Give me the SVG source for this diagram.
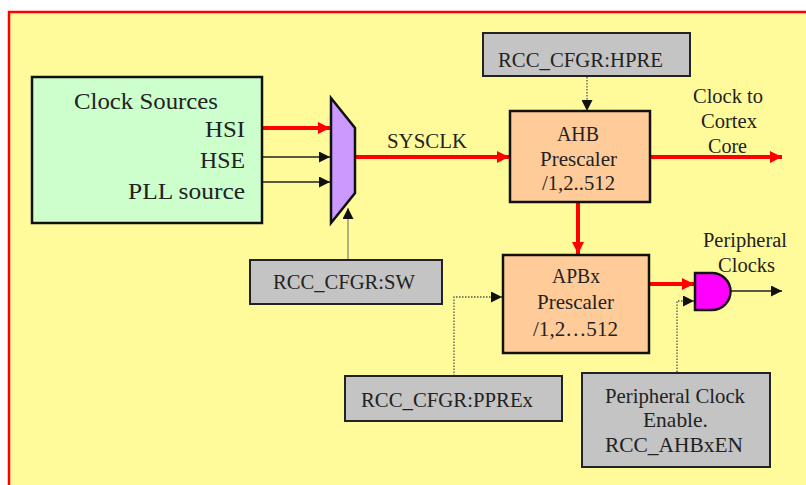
<svg xmlns="http://www.w3.org/2000/svg" width="806" height="485" viewBox="0 0 806 485">
<style>
text{font-family:"Liberation Serif","DejaVu Serif","Noto Serif",serif;fill:#222;}
.t24{font-size:24px;}
.t21{font-size:21px;}
.t20{font-size:20px;}
.mid{text-anchor:middle;}
.end{text-anchor:end;}
.box{stroke:#111;stroke-width:2.5;}
.gray{fill:#C4C4C4;stroke:#222;stroke-width:2;}
.red{stroke:#FF0000;stroke-width:4;fill:none;}
.blk{stroke:#222;stroke-width:1.3;fill:none;}
.dot{stroke:#555;stroke-width:1.3;stroke-dasharray:1.5 1.5;fill:none;}
</style>
<defs>
<marker id="ar" viewBox="0 0 10 10" refX="10" refY="5" markerWidth="14" markerHeight="12" markerUnits="userSpaceOnUse" orient="auto"><path d="M0,0 L10,5 L0,10 Z" fill="#FF0000"/></marker>
<marker id="ab" viewBox="0 0 10 10" refX="10" refY="5" markerWidth="11" markerHeight="11" markerUnits="userSpaceOnUse" orient="auto"><path d="M0,0 L10,5 L0,10 Z" fill="#111"/></marker>
</defs>
<rect x="0" y="0" width="806" height="485" fill="#FFFFFF"/>
<rect x="9" y="12" width="820" height="500" fill="#FFFB9A" stroke="#FF0000" stroke-width="2.5"/>

<g id="connectors">
<line class="red" x1="262" y1="128" x2="330" y2="128" marker-end="url(#ar)"/>
<line class="blk" x1="262" y1="157" x2="330" y2="157" marker-end="url(#ab)"/>
<line class="blk" x1="262" y1="182" x2="330" y2="182" marker-end="url(#ab)"/>
<line x1="348" y1="260" x2="348" y2="208" stroke="#888870" stroke-width="1.3" marker-end="url(#ab)"/>
<line class="red" x1="356" y1="157" x2="509" y2="157" marker-end="url(#ar)"/>
<line class="dot" x1="587" y1="77" x2="587" y2="111" marker-end="url(#ab)"/>
<line class="red" x1="650" y1="157" x2="782" y2="157" marker-end="url(#ar)"/>
<line class="red" x1="578" y1="202" x2="578" y2="254" marker-end="url(#ar)"/>
<polyline class="dot" points="454,376 454,297 502,297" marker-end="url(#ab)"/>
<line class="red" x1="649" y1="284" x2="694" y2="284" marker-end="url(#ar)"/>
<polyline class="dot" points="677,372 677,301 694,301" marker-end="url(#ab)"/>
<line class="blk" x1="731" y1="291" x2="782" y2="291" marker-end="url(#ab)"/>
</g>

<g id="clock-sources">
<rect class="box" x="32" y="77" width="230" height="146" fill="#CCFFCC"/>
<text class="t24" x="74" y="109" textLength="144" lengthAdjust="spacingAndGlyphs">Clock Sources</text>
<text class="t24" x="205" y="137" textLength="40" lengthAdjust="spacingAndGlyphs">HSI</text>
<text class="t24" x="200" y="168" textLength="45" lengthAdjust="spacingAndGlyphs">HSE</text>
<text class="t24" x="128" y="199" textLength="117" lengthAdjust="spacingAndGlyphs">PLL source</text>
</g>

<g id="mux">
<polygon points="331,98 355,128 355,193 331,223" fill="#CC99FF" stroke="#111" stroke-width="2.5"/>
</g>

<g id="sysclk-label">
<text class="t20" x="387" y="148" textLength="80" lengthAdjust="spacingAndGlyphs">SYSCLK</text>
</g>

<g id="rcc-sw">
<rect class="gray" x="250" y="260" width="192" height="44"/>
<text class="t21" x="273" y="289" textLength="142" lengthAdjust="spacingAndGlyphs">RCC_CFGR:SW</text>
</g>

<g id="rcc-hpre">
<rect class="gray" x="483" y="33" width="207" height="43"/>
<text class="t21" x="498" y="67" textLength="165" lengthAdjust="spacingAndGlyphs">RCC_CFGR:HPRE</text>
</g>

<g id="ahb">
<rect class="box" x="510" y="111" width="140" height="91" fill="#FFCC99"/>
<text class="t21" x="557" y="141" textLength="42" lengthAdjust="spacingAndGlyphs">AHB</text>
<text class="t21" x="540" y="166" textLength="77" lengthAdjust="spacingAndGlyphs">Prescaler</text>
<text class="t21" x="542" y="190" textLength="73" lengthAdjust="spacingAndGlyphs">/1,2..512</text>
</g>

<g id="cortex-label">
<text class="t20" x="693" y="103" textLength="70" lengthAdjust="spacingAndGlyphs">Clock to</text>
<text class="t20" x="701" y="128" textLength="56" lengthAdjust="spacingAndGlyphs">Cortex</text>
<text class="t20" x="708" y="153" textLength="39" lengthAdjust="spacingAndGlyphs">Core</text>
</g>

<g id="apbx">
<rect class="box" x="503" y="255" width="146" height="98" fill="#FFCC99"/>
<text class="t21" x="552" y="283" textLength="48" lengthAdjust="spacingAndGlyphs">APBx</text>
<text class="t21" x="537" y="309" textLength="77" lengthAdjust="spacingAndGlyphs">Prescaler</text>
<text class="t21" x="533" y="336" textLength="85" lengthAdjust="spacingAndGlyphs">/1,2…512</text>
</g>

<g id="rcc-ppre">
<rect class="gray" x="345" y="376" width="217" height="45"/>
<text class="t21" x="361" y="407" textLength="172" lengthAdjust="spacingAndGlyphs">RCC_CFGR:PPREx</text>
</g>

<g id="and-gate">
<path d="M695,273 H712 A18.5,18.5 0 0 1 712,310 H695 Z" fill="#FF00FF" stroke="#111" stroke-width="2.5"/>
</g>

<g id="peripheral-label">
<text class="t20" x="703" y="247" textLength="84" lengthAdjust="spacingAndGlyphs">Peripheral</text>
<text class="t20" x="718" y="272" textLength="57" lengthAdjust="spacingAndGlyphs">Clocks</text>
</g>

<g id="enable">
<rect class="gray" x="582" y="373" width="188" height="94"/>
<text class="t21" x="605" y="403" textLength="140" lengthAdjust="spacingAndGlyphs">Peripheral Clock</text>
<text class="t21" x="643" y="427" textLength="65" lengthAdjust="spacingAndGlyphs">Enable.</text>
<text class="t21" x="605" y="452" textLength="138" lengthAdjust="spacingAndGlyphs">RCC_AHBxEN</text>
</g>
</svg>
